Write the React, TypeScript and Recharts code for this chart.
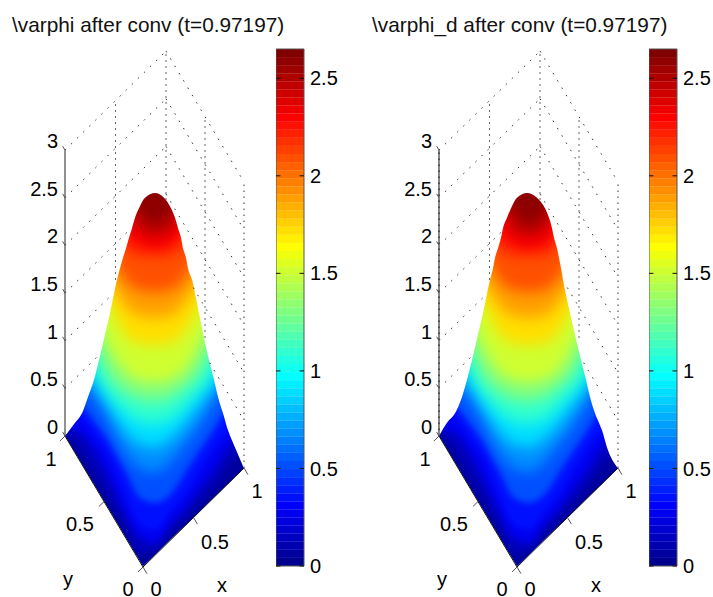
/**
 * Two MATLAB surf panels (after conv) with jet colorbars.
 * The 3D hill is drawn as nested contour bands in a projected (h, v) plane.
 */
import { ComposedChart, Area, XAxis, YAxis, ReferenceLine, ReferenceArea, ReferenceDot } from 'recharts'

const FONT = '"Liberation Sans", Arial, sans-serif'

// matlab jet(64)
const jet = [
  '#00008f', '#00009f', '#0000af', '#0000bf', '#0000cf', '#0000df', '#0000ef', '#0000ff',
  '#0010ff', '#0020ff', '#0030ff', '#0040ff', '#0050ff', '#0060ff', '#0070ff', '#0080ff',
  '#008fff', '#009fff', '#00afff', '#00bfff', '#00cfff', '#00dfff', '#00efff', '#00ffff',
  '#10ffef', '#20ffdf', '#30ffcf', '#40ffbf', '#50ffaf', '#60ff9f', '#70ff8f', '#80ff80',
  '#8fff70', '#9fff60', '#afff50', '#bfff40', '#cfff30', '#dfff20', '#efff10', '#ffff00',
  '#ffef00', '#ffdf00', '#ffcf00', '#ffbf00', '#ffaf00', '#ff9f00', '#ff8f00', '#ff8000',
  '#ff7000', '#ff6000', '#ff5000', '#ff4000', '#ff3000', '#ff2000', '#ff1000', '#ff0000',
  '#ef0000', '#df0000', '#cf0000', '#bf0000', '#af0000', '#9f0000', '#8f0000', '#800000',
]

const colorMax = 2.65
const colorTicks = [0, 0.5, 1, 1.5, 2, 2.5]
const zTicks = [0, 0.5, 1, 1.5, 2, 2.5, 3]

// plane limits of one panel: h is the horizontal position, v is measured along the z axis
const hMax = 270
const vBottom = -1.689
const vTop = 4.575
const bandTop = 4.2

const columns = [65, 80, 95, 110, 125, 140, 155, 170, 185, 200, 215, 230, 244]

const contourLevels = [0.1, 0.2, 0.3, 0.4, 0.6, 0.8, 1.0, 1.2, 1.4, 1.6, 1.8, 2.0, 2.2, 2.3, 2.4, 2.48, 2.55]
const contours = [
  [0.03, -0.12, -0.38, -0.65, -0.93, -1.22, -1.2, -1.01, -0.85, -0.67, -0.5, -0.27, -0.15],
  [0.08, 0.04, -0.17, -0.46, -0.8, -1.07, -1.12, -0.93, -0.76, -0.55, -0.34, -0.09, -0.02],
  [0.27, 0.19, -0.01, -0.25, -0.61, -0.93, -0.99, -0.8, -0.62, -0.36, -0.12, 0.06, 0.17],
  [0.43, 0.33, 0.14, -0.07, -0.36, -0.65, -0.7, -0.62, -0.39, -0.15, 0.08, 0.33, 0.43],
  [0.69, 0.54, 0.4, 0.14, -0.17, -0.34, -0.38, -0.28, -0.09, 0.12, 0.38, 0.64, 0.8],
  [1.01, 0.8, 0.56, 0.29, 0.04, -0.09, -0.12, -0.04, 0.12, 0.33, 0.54, 0.8, 1.01],
  [1.43, 1.11, 0.67, 0.42, 0.25, 0.15, 0.13, 0.17, 0.31, 0.48, 0.69, 1.01, 1.22],
  [1.74, 1.43, 0.95, 0.61, 0.46, 0.38, 0.36, 0.4, 0.51, 0.67, 1.01, 1.32, 1.53],
  [1.95, 1.64, 1.27, 0.9, 0.67, 0.58, 0.56, 0.59, 0.69, 0.95, 1.32, 1.64, 1.85],
  [2.27, 1.95, 1.64, 1.37, 1.06, 0.97, 0.95, 0.97, 1.09, 1.37, 1.64, 1.95, 2.16],
  [2.58, 2.27, 1.95, 1.64, 1.37, 1.26, 1.24, 1.26, 1.41, 1.66, 1.95, 2.27, 2.48],
  [2.9, 2.58, 2.27, 1.95, 1.64, 1.53, 1.51, 1.53, 1.66, 1.95, 2.27, 2.58, 2.79],
  [3.11, 2.79, 2.53, 2.21, 2.0, 1.91, 1.9, 1.91, 2.06, 2.32, 2.58, 2.9, 3.11],
  [3.26, 2.95, 2.69, 2.39, 2.21, 2.04, 1.99, 2.04, 2.25, 2.5, 2.79, 3.11, 3.32],
  [3.42, 3.11, 2.84, 2.58, 2.42, 2.14, 2.1, 2.14, 2.42, 2.69, 3.0, 3.32, 3.53],
  [3.53, 3.23, 2.98, 2.74, 2.58, 2.25, 2.16, 2.24, 2.56, 2.84, 3.11, 3.42, 3.63],
  [3.63, 3.37, 3.11, 2.9, 2.69, 2.39, 2.26, 2.37, 2.69, 2.95, 3.21, 3.53, 3.74],
]

// outline of the hill against the back walls
const outlineV = [0, 0.14, 0.24, 0.41, 0.59, 0.93, 1.29, 1.64, 1.76, 1.87, 1.97, 2.08, 2.18, 2.29, 2.39, 2.5, 2.55, 2.5, 2.39, 2.29, 2.18, 2.08, 1.97, 1.87, 1.76, 1.64, 1.29, 0.93, 0.59, 0.41, 0.24, 0.06, -0.12, -0.34]
const leftOutlineH = [65, 75, 82, 88, 94, 102, 110, 117, 120, 123, 126, 129, 132, 135, 139, 145, 155, 164, 171, 175, 178, 181, 183, 186, 188, 192, 199, 206, 214, 218, 223, 228, 235, 244]
const rightOutlineH = [65, 73, 81, 88, 93, 101, 109, 116, 119, 121, 124, 127, 129, 133, 137, 143, 153, 163, 171, 175, 178, 180, 183, 185, 187, 189, 196, 204, 212, 216, 221, 228, 233, 244]

// front edge of the floor
const floorEdgeH = [65, 143, 244]
const floorEdgeV = [0, -1.37, -0.34]

// how far each wall grid line shows before it goes behind the hill
const wallZ = [0.5, 1, 1.5, 2, 2.5, 3]
const leftWallReach = [0.35, 0.47, 0.64, 1, 1, 1]
const rightWallReach = [0.44, 0.65, 1, 1, 1, 1]

const project = (x: number, y: number, z: number) => ({
  x: 65 + 78 * (1 - y) + 101 * x,
  y: z + (99 * x + 131 * y - 131) / 95.3,
})

// colour of the band from this level up to the next one
const bandColor = (k: number) => {
  const next = contourLevels[k + 1] ?? 2.62
  return jet[Math.min(63, Math.floor(((contourLevels[k] + next) / 2 / colorMax) * 64))]
}

const softClass = (level: number) => (level <= 0.4 ? 'soft-low' : level >= 2.3 ? 'soft-top' : 'soft-mid')

const DIAG_DOTS = { stroke: '#333', strokeWidth: 1, strokeDasharray: '1.5 7' }
const VERT_DOTS = { stroke: '#333', strokeWidth: 1, strokeDasharray: '1.5 4.5' }
const AXIS_LABEL = { fontSize: 20, fill: '#000', position: 'center' as const }

const axisLabels = [
  { h: 156, v: -1.6, text: '0' },
  { h: 215, v: -1.11, text: '0.5' },
  { h: 257, v: -0.58, text: '1' },
  { h: 222, v: -1.56, text: 'x' },
  { h: 128, v: -1.6, text: '0' },
  { h: 80, v: -0.92, text: '0.5' },
  { h: 51, v: -0.24, text: '1' },
  { h: 68, v: -1.5, text: 'y' },
]

function ZTick({ y, payload }: any) {
  return (
    <text x={58} y={y - 9} textAnchor="end" dominantBaseline="central" fontSize={20} fill="#000">
      {payload.value}
    </text>
  )
}

function whiteArea(key: string, data: any[], curve: 'linear' | 'monotone' = 'linear') {
  return (
    <Area key={key} data={data} dataKey="band" type={curve} fill="#fff" fillOpacity={1} stroke="none"
      dot={false} activeDot={false} isAnimationActive={false} />
  )
}

function Surface({ outlineH, axisColor, axisWidth, dottedAxis }: { outlineH: number[]; axisColor: string; axisWidth: number; dottedAxis: boolean }) {
  const floor = floorEdgeH.map((h, i) => ({ h, band: [floorEdgeV[i], bandTop] }))
  const above = outlineH.map((h, i) => ({ h, band: [outlineV[i], vTop] }))
  const below = floorEdgeH.map((h, i) => ({ h, band: [vBottom, floorEdgeV[i]] }))
  const leftSide = [{ h: 0, band: [vBottom, vTop] }, { h: 65, band: [vBottom, vTop] }]
  const rightSide = [{ h: 244, band: [vBottom, vTop] }, { h: hMax, band: [vBottom, vTop] }]

  return (
    <ComposedChart width={hMax} height={597} margin={{ top: 0, right: 0, bottom: 0, left: 0 }}>
      <XAxis dataKey="h" type="number" domain={[0, hMax]} hide allowDataOverflow />
      <Area data={floor} dataKey="band" type="linear" fill={jet[1]} fillOpacity={1} stroke="none"
        dot={false} activeDot={false} isAnimationActive={false} />
      {contours.map((row, k) => (
        <Area key={k} className={softClass(contourLevels[k])} data={columns.map((h, i) => ({ h, band: [row[i], bandTop] }))}
          dataKey="band" type="monotone" fill={bandColor(k)} fillOpacity={1} stroke="none"
          dot={false} activeDot={false} isAnimationActive={false} />
      ))}
      {whiteArea('above', above, 'monotone')}
      {whiteArea('below', below)}
      {whiteArea('left', leftSide)}
      {whiteArea('right', rightSide)}
      <YAxis mirror width={1} type="number" domain={[vBottom, vTop]} ticks={zTicks} interval={0} allowDataOverflow
        axisLine={false} tickLine={false} tick={<ZTick />} />

      {wallZ.map((z, i) => (
        <ReferenceLine key={`l${z}`} ifOverflow="visible" {...DIAG_DOTS}
          segment={[project(0, 1, z), project(leftWallReach[i], 1, z)]} />
      ))}
      {wallZ.map((z, i) => (
        <ReferenceLine key={`r${z}`} ifOverflow="visible" {...DIAG_DOTS}
          segment={[project(1, rightWallReach[i], z), project(1, 0, z)]} />
      ))}
      <ReferenceLine ifOverflow="visible" {...VERT_DOTS} segment={[project(0.5, 1, 1.12), project(0.5, 1, 3)]} />
      <ReferenceLine ifOverflow="visible" {...VERT_DOTS} segment={[project(1, 1, 1.44), project(1, 1, 3)]} />
      <ReferenceLine ifOverflow="visible" {...VERT_DOTS} segment={[project(1, 0.5, 0.68), project(1, 0.5, 3)]} />
      <ReferenceLine ifOverflow="visible" {...VERT_DOTS} segment={[project(1, 0, 0), project(1, 0, 3)]} />

      {/* solid box edges */}
      <ReferenceLine ifOverflow="visible" stroke={axisColor} strokeWidth={axisWidth} segment={[project(0, 1, 0), project(0, 1, 3)]} />
      {dottedAxis && <ReferenceLine ifOverflow="visible" {...VERT_DOTS} stroke="#111" segment={[project(0, 1, 0), project(0, 1, 3)]} />}
      <ReferenceLine ifOverflow="visible" stroke="#111" segment={[project(0, 1, 0), project(0, 0, 0)]} />
      <ReferenceLine ifOverflow="visible" stroke="#111" segment={[project(0, 0, 0), project(1, 0, 0)]} />

      {zTicks.map(z => (
        <ReferenceLine key={`zt${z}`} ifOverflow="visible" stroke="#555" segment={[project(0, 1, z), project(0, 1.03, z)]} />
      ))}
      {[0, 0.5, 1].map(t => (
        <ReferenceLine key={`xt${t}`} ifOverflow="visible" stroke="#555" segment={[project(t, 0, 0), project(t, -0.05, 0)]} />
      ))}
      {[0, 0.5, 1].map(t => (
        <ReferenceLine key={`yt${t}`} ifOverflow="visible" stroke="#555" segment={[project(0, t, 0), project(-0.05, t, 0)]} />
      ))}

      {axisLabels.map((l, i) => (
        <ReferenceDot key={i} x={l.h} y={l.v} r={0} stroke="none" fill="none" ifOverflow="visible"
          label={{ ...AXIS_LABEL, value: l.text }} />
      ))}
    </ComposedChart>
  )
}

function ColorBar() {
  const step = colorMax / jet.length
  const row = Object.fromEntries(jet.map((_, i) => [`c${i}`, step]))
  const data = [{ x: 0, ...row }, { x: 1, ...row }]

  return (
    <ComposedChart width={64} height={537} data={data} margin={{ top: 10, right: 0, bottom: 10, left: 0 }}>
      <XAxis dataKey="x" type="number" domain={[0, 1]} hide />
      <YAxis orientation="right" width={36} type="number" domain={[0, colorMax]} ticks={colorTicks} interval={0}
        axisLine={false} tickLine={false} tickSize={0} tickMargin={6} tick={{ fontSize: 20, fill: '#000' }} allowDataOverflow />
      {jet.map((c, i) => (
        <Area key={c} dataKey={`c${i}`} stackId="bar" type="linear" fill={c} fillOpacity={1} stroke={c} strokeWidth={0.4}
          dot={false} activeDot={false} isAnimationActive={false} />
      ))}
      {colorTicks.map(t => (
        <ReferenceLine key={`a${t}`} stroke="#111" segment={[{ x: 0, y: t }, { x: 0.16, y: t }]} />
      ))}
      {colorTicks.map(t => (
        <ReferenceLine key={`b${t}`} stroke="#111" segment={[{ x: 0.84, y: t }, { x: 1, y: t }]} />
      ))}
      <ReferenceArea x1={0} x2={1} y1={0} y2={colorMax} fill="none" stroke="#555" strokeWidth={1} />
    </ComposedChart>
  )
}

function Panel({ left, title, titleLeft, outlineH, axisColor, axisWidth, dottedAxis, barLeft }: any) {
  return (
    <>
      <div style={{ position: 'absolute', left: left, top: 0 }}>
        <Surface outlineH={outlineH} axisColor={axisColor} axisWidth={axisWidth} dottedAxis={dottedAxis} />
      </div>
      <div style={{ position: 'absolute', left: barLeft, top: 39 }}>
        <ColorBar />
      </div>
      <div style={{ position: 'absolute', left: titleLeft, top: 13, fontSize: 20.8, lineHeight: '24px', whiteSpace: 'nowrap', color: '#111' }}>
        {title}
      </div>
    </>
  )
}

export default function App() {
  return (
    <div style={{ position: 'absolute', left: 0, top: 0, width: 713, height: 597, overflow: 'hidden', background: '#fff', fontFamily: FONT }}>
      <style>{'.soft-low { filter: blur(3px); } .soft-mid { filter: blur(7px); } .soft-top { filter: blur(4px); }'}</style>
      <Panel left={0} barLeft={276} titleLeft={12} title="\varphi after conv (t=0.97197)" outlineH={leftOutlineH} axisColor="#222" axisWidth={1} dottedAxis={false} />
      <Panel left={374} barLeft={649} titleLeft={372} title="\varphi_d after conv (t=0.97197)" outlineH={rightOutlineH} axisColor="#888" axisWidth={2} dottedAxis />
    </div>
  )
}
